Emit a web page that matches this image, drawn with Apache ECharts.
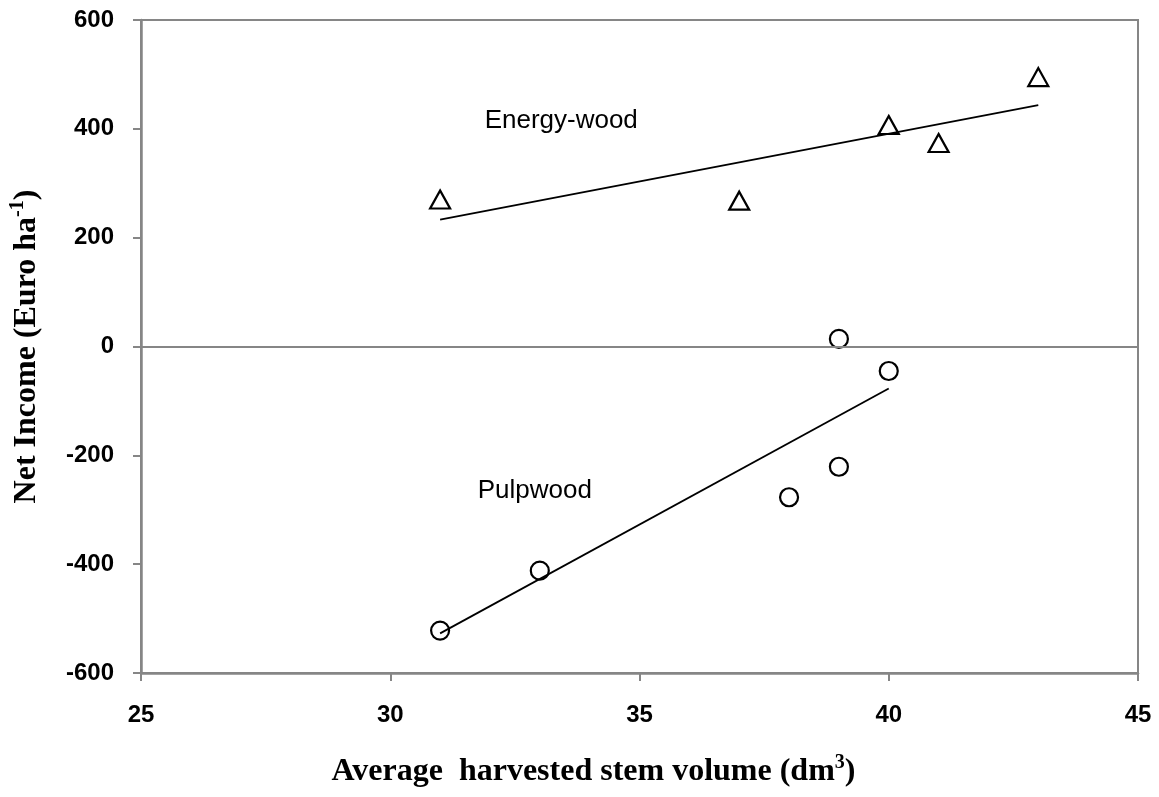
<!DOCTYPE html>
<html>
<head>
<meta charset="utf-8">
<script src="https://cdn.jsdelivr.net/npm/echarts@6/dist/echarts.min.js"></script>
<style>
html,body{margin:0;padding:0;background:#fff;}
#chart{width:1159px;height:797px;}
</style>
</head>
<body>
<div id="chart"></div>
<script>
// Data
const energyX = [31, 37, 40, 41, 43];
const energyY = [270, 268, 407, 374, 495];
const pulpX = [31, 33, 38, 39, 39, 40];
const pulpY = [-522, -412, -277, -221, 14, -45];
const xTicks = [25, 30, 35, 40, 45];
const yTicks = [-600, -400, -200, 0, 200, 400, 600];

function pairs(xs, ys) { return xs.map((x, i) => [x, ys[i]]); }
function trend(xs, ys) {
  const n = xs.length;
  const mx = xs.reduce((a, b) => a + b, 0) / n;
  const my = ys.reduce((a, b) => a + b, 0) / n;
  let sxy = 0, sxx = 0;
  for (let i = 0; i < n; i++) { sxy += (xs[i] - mx) * (ys[i] - my); sxx += (xs[i] - mx) ** 2; }
  const b = sxy / sxx, a = my - b * mx;
  const x0 = Math.min(...xs), x1 = Math.max(...xs);
  return [[x0, a + b * x0], [x1, a + b * x1]];
}

const axisGray = '#868686';
const sans = "'Liberation Sans', Arial, sans-serif";
const serif = "'Liberation Serif', 'Times New Roman', serif";

const chart = echarts.init(document.getElementById('chart'), null, {renderer: 'canvas'});
chart.setOption({
  animation: false,
  backgroundColor: '#fff',
  grid: {left: 140, top: 20, right: 21, bottom: 124, show: true, borderColor: axisGray, borderWidth: 2},
  xAxis: {
    type: 'value', min: xTicks[0], max: xTicks[xTicks.length - 1], interval: 5,
    axisLine: {onZero: false, lineStyle: {color: axisGray, width: 2.5}},
    axisTick: {show: true, length: 8, lineStyle: {color: axisGray, width: 2}},
    splitLine: {show: false},
    axisLabel: {margin: 30, color: '#000', fontFamily: sans, fontWeight: 'bold', fontSize: 24},
    name: 'Average  harvested stem volume (dm{sup|3})',
    nameLocation: 'middle', nameGap: 80,
    nameTextStyle: {color: '#000', fontFamily: serif, fontWeight: 'bold', fontSize: 32, lineHeight: 38,
      padding: [0, 92, 0, 0],
      rich: {sup: {fontFamily: serif, fontWeight: 'bold', fontSize: 20, verticalAlign: 'top', color: '#000'}}}
  },
  yAxis: {
    type: 'value', min: yTicks[0], max: yTicks[yTicks.length - 1], interval: 200,
    axisLine: {show: true, lineStyle: {color: axisGray, width: 2.5}},
    axisTick: {show: true, length: 8, lineStyle: {color: axisGray, width: 2}},
    splitLine: {show: false},
    axisLabel: {margin: 27, color: '#000', fontFamily: sans, fontWeight: 'bold', fontSize: 24},
    name: 'Net Income (Euro ha{sup|-1})',
    nameLocation: 'middle', nameGap: 95, nameRotate: 90,
    nameTextStyle: {color: '#000', fontFamily: serif, fontWeight: 'bold', fontSize: 32, lineHeight: 38,
      rich: {sup: {fontFamily: serif, fontWeight: 'bold', fontSize: 20, verticalAlign: 'top', color: '#000'}}}
  },
  series: [
    {
      type: 'line', data: trend(energyX, energyY), symbol: 'none', silent: true,
      lineStyle: {color: '#000', width: 1.8}, z: 3,
      markLine: {
        silent: true, symbol: 'none', label: {show: false},
        lineStyle: {color: axisGray, width: 2, type: 'solid'},
        data: [{yAxis: 0}]
      }
    },
    {type: 'line', data: trend(pulpX, pulpY), symbol: 'none', silent: true, lineStyle: {color: '#000', width: 1.8}, z: 3},
    {
      type: 'scatter', name: 'Energy-wood', data: pairs(energyX, energyY), symbol: 'triangle', symbolSize: [20, 18],
      itemStyle: {color: 'rgba(255,255,255,0)', borderColor: '#000', borderWidth: 2.2, opacity: 1}, z: 4
    },
    {
      type: 'scatter', name: 'Pulpwood', data: pairs(pulpX, pulpY), symbol: 'circle', symbolSize: 18,
      itemStyle: {color: 'rgba(255,255,255,0)', borderColor: '#000', borderWidth: 2.2, opacity: 1}, z: 4
    },
    {
      type: 'scatter', silent: true, symbolSize: 0, itemStyle: {opacity: 1},
      data: [{name: 'Energy-wood', value: [33.43, 415]}, {name: 'Pulpwood', value: [32.9, -265]}],
      label: {show: true, position: 'inside', formatter: p => p.name, color: '#000', fontFamily: sans, fontSize: 26}
    }
  ]
});
</script>
</body>
</html>
